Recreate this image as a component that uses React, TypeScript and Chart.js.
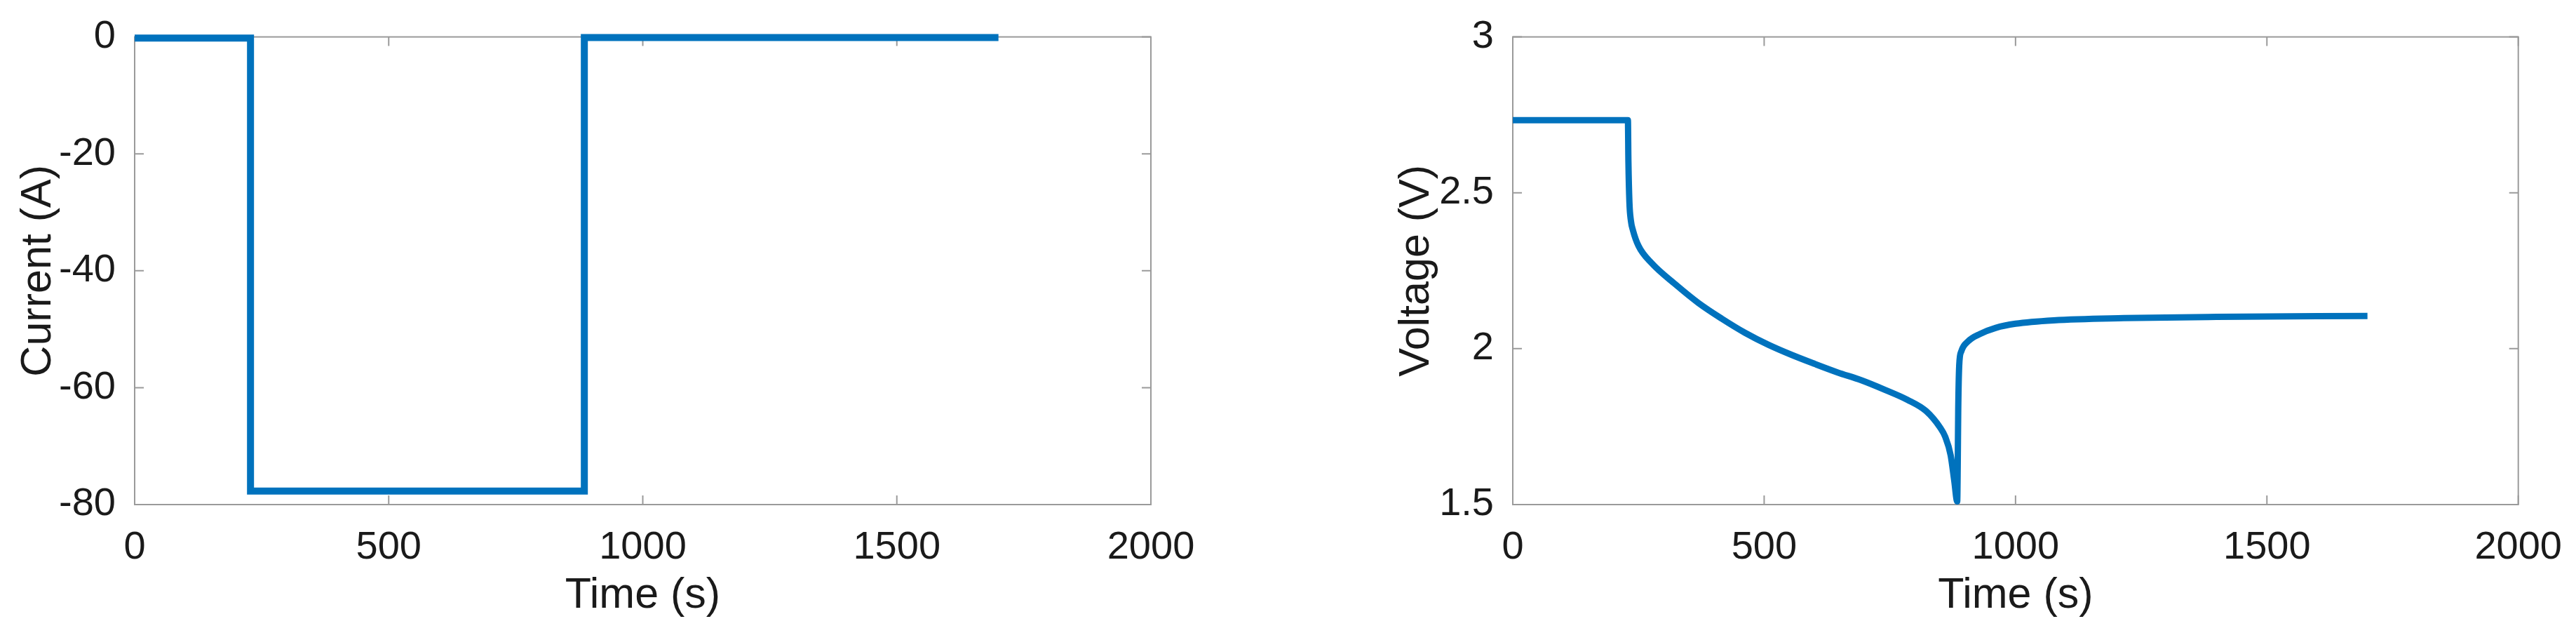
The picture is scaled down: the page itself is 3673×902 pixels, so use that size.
import React, { useEffect, useRef } from "react";
import { Chart, registerables } from "chart.js";

Chart.register(...registerables);

// ---- data ----
const currentTime = [0, 228, 228, 885, 885, 1700];
const currentValues = [-0.2, -0.2, -77.7, -77.7, -0.1, -0.1];

const voltageTime = [
  0, 229, 230, 232, 235, 239, 250, 277, 323, 369, 416, 462, 508, 555, 601, 646,
  693, 739, 785, 822, 850, 860, 871, 878, 884, 885, 886, 888, 892, 906, 929, 961,
  1000, 1076, 1215, 1400, 1700,
];
const voltageValues = [
  2.733, 2.733, 2.6, 2.47, 2.41, 2.38, 2.33, 2.273, 2.207, 2.147, 2.096, 2.051,
  2.013, 1.98, 1.951, 1.924, 1.899, 1.869, 1.836, 1.8, 1.747, 1.718, 1.658, 1.578,
  1.51, 1.62, 1.8, 1.947, 1.991, 2.024, 2.047, 2.067, 2.08, 2.091, 2.098, 2.102,
  2.105,
];

const timeTicks = [0, 500, 1000, 1500, 2000];
const currentTicks = [-80, -60, -40, -20, 0];
const voltageTicks = [1.5, 2, 2.5, 3];

const LINE_COLOR = "#0072BD";
const AXIS_COLOR = "#9a9a9a";
const TEXT_COLOR = "#1a1a1a";
const FONT = "'Liberation Sans', Arial, Helvetica, sans-serif";

const boxPlugin = {
  id: "matlabBox",
  beforeDatasetsDraw(chart: any, _args: any, opts: any) {
    const { ctx, chartArea } = chart;
    const { left, right, top, bottom } = chartArea;
    const xs = chart.scales.x;
    const ys = chart.scales.y;
    const L = 13;
    ctx.save();
    ctx.strokeStyle = AXIS_COLOR;
    ctx.lineWidth = 2;
    ctx.beginPath();
    for (const v of opts.xTicks || []) {
      const px = xs.getPixelForValue(v);
      ctx.moveTo(px, bottom);
      ctx.lineTo(px, bottom - L);
      ctx.moveTo(px, top);
      ctx.lineTo(px, top + L);
    }
    for (const v of opts.yTicks || []) {
      const py = ys.getPixelForValue(v);
      ctx.moveTo(left, py);
      ctx.lineTo(left + L, py);
      ctx.moveTo(right, py);
      ctx.lineTo(right - L, py);
    }
    ctx.stroke();
    ctx.strokeRect(left, top, right - left, bottom - top);
    ctx.restore();
  },
};

function makeConfig(
  times: number[],
  values: number[],
  xTicks: number[],
  yTicks: number[],
  yMin: number,
  yMax: number,
  yTitle: string,
  padLeft: number,
  padRight: number,
  lineWidth: number,
  smooth: boolean
): any {
  return {
    type: "line",
    data: {
      datasets: [
        {
          data: times.map((t, i) => ({ x: t, y: values[i] })),
          borderColor: LINE_COLOR,
          backgroundColor: LINE_COLOR,
          borderWidth: lineWidth,
          pointRadius: 0,
          fill: false,
          clip: false,
          tension: 0,
          cubicInterpolationMode: smooth ? "monotone" : "default",
          borderJoinStyle: "miter",
          borderCapStyle: "butt",
        },
      ],
    },
    plugins: [boxPlugin],
    options: {
      responsive: false,
      animation: false,
      devicePixelRatio: 1,
      layout: { padding: { left: padLeft, right: padRight, top: 43, bottom: 0 } },
      plugins: {
        legend: { display: false },
        tooltip: { enabled: false },
        matlabBox: { xTicks, yTicks },
      },
      scales: {
        x: {
          type: "linear",
          min: 0,
          max: 2000,
          afterBuildTicks: (s: any) => {
            s.ticks = xTicks.map((v) => ({ value: v }));
          },
          afterFit: (s: any) => {
            s.height = 183;
          },
          grid: { display: false },
          border: { display: false },
          ticks: {
            autoSkip: false,
            maxRotation: 0,
            padding: 20,
            color: TEXT_COLOR,
            font: { family: FONT, size: 56 },
            callback: (v: any) => String(v),
          },
          title: {
            display: true,
            text: "Time (s)",
            color: TEXT_COLOR,
            font: { family: FONT, size: 61 },
            padding: { top: 0, bottom: 16 },
          },
        },
        y: {
          type: "linear",
          min: yMin,
          max: yMax,
          afterBuildTicks: (s: any) => {
            s.ticks = yTicks.map((v) => ({ value: v }));
          },
          afterFit: (s: any) => {
            s.width = 192;
          },
          grid: { display: false },
          border: { display: false },
          ticks: {
            autoSkip: false,
            padding: 19,
            color: TEXT_COLOR,
            font: { family: FONT, size: 56 },
            callback: (v: any) => String(v),
          },
          title: {
            display: true,
            text: yTitle,
            color: TEXT_COLOR,
            font: { family: FONT, size: 61 },
            padding: { top: 19, bottom: 0 },
          },
        },
      },
    },
  };
}

function ChartCanvas(props: { config: any; left: number; width: number }) {
  const ref = useRef<HTMLCanvasElement | null>(null);
  useEffect(() => {
    if (!ref.current) return;
    const chart = new Chart(ref.current, props.config);
    return () => chart.destroy();
  }, []);
  return (
    <canvas
      ref={ref}
      width={props.width}
      height={902}
      style={{
        position: "absolute",
        left: props.left,
        top: 0,
        width: props.width,
        height: 902,
      }}
    />
  );
}

export default function App() {
  const leftConfig = makeConfig(
    currentTime,
    currentValues,
    timeTicks,
    currentTicks,
    -80,
    0,
    "Current (A)",
    0,
    195,
    10,
    false
  );
  const rightConfig = makeConfig(
    voltageTime,
    voltageValues,
    timeTicks,
    voltageTicks,
    1.5,
    3,
    "Voltage (V)",
    129,
    74,
    9,
    true
  );
  return (
    <div
      style={{
        position: "absolute",
        left: 0,
        top: 0,
        width: 3673,
        height: 902,
        background: "#ffffff",
        overflow: "hidden",
      }}
    >
      <ChartCanvas config={leftConfig} left={0} width={1836} />
      <ChartCanvas config={rightConfig} left={1836} width={1837} />
    </div>
  );
}
